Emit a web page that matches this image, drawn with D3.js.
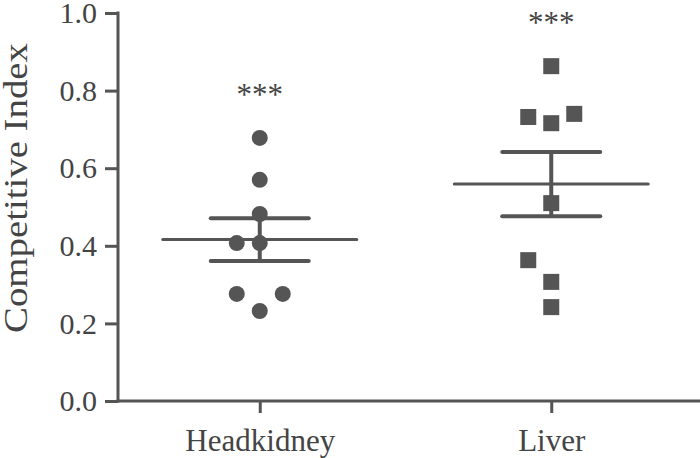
<!DOCTYPE html>
<html>
<head>
<meta charset="utf-8">
<script src="https://cdn.jsdelivr.net/npm/d3@7"></script>
<style>
  body { margin: 0; background: #fff; }
  svg text { font-family: 'Liberation Serif', 'Times New Roman', serif; fill: #444; }
</style>
</head>
<body>
<svg width="700" height="458"></svg>
<script>
// data
var groups = ["Headkidney", "Liver"];
var headkidney = [0.678, 0.570, 0.482, 0.407, 0.407, 0.276, 0.276, 0.232];
var liver = [0.863, 0.740, 0.732, 0.716, 0.510, 0.363, 0.307, 0.242];
var yTicks = [0.0, 0.2, 0.4, 0.6, 0.8, 1.0];
var sigLabel = ["***", "***"];
var sigY = [0.763, 0.948];

var ink = "#555";
var serif = "'Liberation Serif', 'Times New Roman', serif";
var svg = d3.select("svg");

var y = d3.scaleLinear().domain([0, 1]).range([401, 13]);
var x = d3.scalePoint().domain(groups).range([114, 697]).padding(0.5);

// axes
var yAxis = svg.append("g")
  .attr("transform", "translate(118,0)")
  .call(d3.axisLeft(y).tickValues(yTicks).tickFormat(d3.format(".1f")).tickSize(13).tickSizeOuter(0).tickPadding(8))
  .attr("font-family", serif).attr("font-size", 30);
yAxis.selectAll("line").attr("stroke", ink).attr("stroke-width", 3);
yAxis.select(".domain").remove();
yAxis.selectAll("text").attr("fill", "#444");
svg.append("line").attr("x1", 118).attr("x2", 118).attr("y1", y(1) - 1.5).attr("y2", y(0) + 1.5)
  .attr("stroke", ink).attr("stroke-width", 3);

var xAxis = svg.append("g")
  .attr("transform", "translate(0," + y(0) + ")")
  .call(d3.axisBottom(x).tickSize(12).tickSizeOuter(0).tickPadding(16))
  .attr("font-family", serif).attr("font-size", 31);
xAxis.select(".domain").remove();
xAxis.selectAll("line").attr("stroke", ink).attr("stroke-width", 3);
xAxis.selectAll("text").attr("fill", "#444");
svg.append("line").attr("x1", 116.5).attr("x2", 700).attr("y1", y(0)).attr("y2", y(0))
  .attr("stroke", ink).attr("stroke-width", 3);

svg.append("text")
  .attr("transform", "translate(27,188) rotate(-90)")
  .attr("text-anchor", "middle")
  .attr("font-family", serif)
  .attr("font-size", 33)
  .attr("textLength", 290)
  .attr("lengthAdjust", "spacingAndGlyphs")
  .text("Competitive Index");

// simple beeswarm: place points in ascending order, shift sideways on overlap
function swarm(values) {
  var step = 23, minDist = 22.5, placed = [];
  values.slice().sort(d3.ascending).forEach(function(v) {
    var py = y(v), tries = [0, -step, step, -2 * step, 2 * step];
    for (var i = 0; i < tries.length; i++) {
      var ok = placed.every(function(p) { return Math.hypot(p.dx - tries[i], p.py - py) >= minDist; });
      if (ok) { placed.push({v: v, dx: tries[i], py: py}); break; }
    }
  });
  return placed;
}

var series = [headkidney, liver];
series.forEach(function(vals, gi) {
  var cx = x(groups[gi]);
  var g = svg.append("g");
  var m = d3.mean(vals), sem = d3.deviation(vals) / Math.sqrt(vals.length);
  var pts = swarm(vals);
  if (gi === 0) {
    g.selectAll("circle").data(pts).enter().append("circle")
      .attr("cx", function(d) { return cx + d.dx; })
      .attr("cy", function(d) { return d.py; })
      .attr("r", 8).attr("fill", ink);
  } else {
    g.selectAll("rect").data(pts).enter().append("rect")
      .attr("x", function(d) { return cx + d.dx - 8; })
      .attr("y", function(d) { return d.py - 8; })
      .attr("width", 16).attr("height", 16).attr("fill", ink);
  }
  // mean and SEM
  g.append("line").attr("x1", cx).attr("x2", cx).attr("y1", y(m + sem)).attr("y2", y(m - sem))
    .attr("stroke", ink).attr("stroke-width", 4);
  [m + sem, m - sem].forEach(function(v) {
    g.append("line").attr("x1", cx - 49).attr("x2", cx + 49).attr("y1", y(v)).attr("y2", y(v))
      .attr("stroke", ink).attr("stroke-width", 4).attr("stroke-linecap", "round");
  });
  g.append("line").attr("x1", cx - 97).attr("x2", cx + 97).attr("y1", y(m)).attr("y2", y(m))
    .attr("stroke", ink).attr("stroke-width", 3).attr("stroke-linecap", "round");

  svg.append("text").attr("x", cx).attr("y", y(sigY[gi]))
    .attr("text-anchor", "middle").attr("font-family", serif).attr("font-size", 31)
    .text(sigLabel[gi]);
});
</script>
</body>
</html>
